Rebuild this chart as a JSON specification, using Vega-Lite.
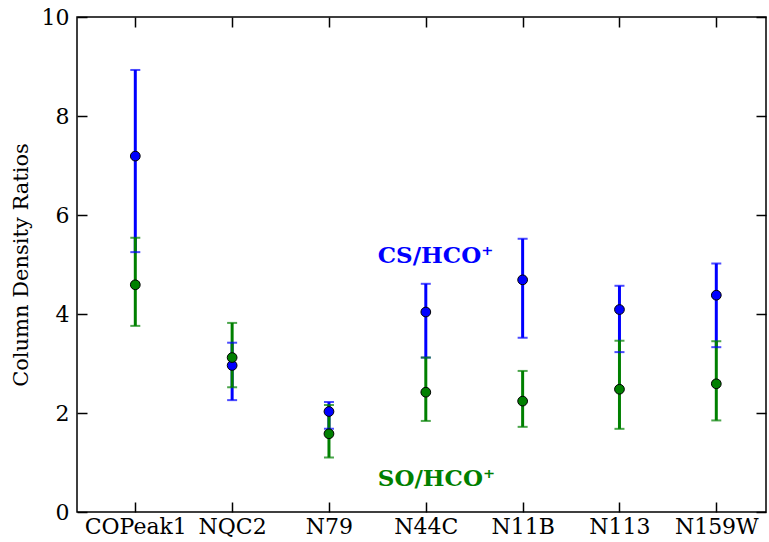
{
  "$schema": "https://vega.github.io/schema/vega-lite/v6.json",
  "width": 689,
  "height": 495,
  "autosize": {"type": "none"},
  "padding": {"left": 77, "top": 17, "right": 3, "bottom": 30},
  "background": "white",
  "config": {
    "view": {"stroke": "black", "strokeWidth": 1.5},
    "font": "DejaVu Serif, serif",
    "axis": {
      "domain": false,
      "grid": false,
      "tickColor": "black",
      "tickWidth": 1.5,
      "tickSize": -10,
      "labelColor": "black",
      "labelFont": "DejaVu Serif, serif",
      "labelFontSize": 22,
      "titleFont": "DejaVu Serif, serif",
      "titleFontSize": 21,
      "titleFontWeight": "normal",
      "titleColor": "black"
    }
  },
  "datasets": {
    "meas": [
      {"site": "COPeak1", "ratio": "CS/HCO+", "value": 7.19, "lo": 5.25, "hi": 8.93},
      {"site": "NQC2", "ratio": "CS/HCO+", "value": 2.96, "lo": 2.26, "hi": 3.42},
      {"site": "N79", "ratio": "CS/HCO+", "value": 2.03, "lo": 1.68, "hi": 2.22},
      {"site": "N44C", "ratio": "CS/HCO+", "value": 4.04, "lo": 3.12, "hi": 4.61},
      {"site": "N11B", "ratio": "CS/HCO+", "value": 4.69, "lo": 3.52, "hi": 5.52},
      {"site": "N113", "ratio": "CS/HCO+", "value": 4.09, "lo": 3.23, "hi": 4.57},
      {"site": "N159W", "ratio": "CS/HCO+", "value": 4.38, "lo": 3.33, "hi": 5.02},
      {"site": "COPeak1", "ratio": "SO/HCO+", "value": 4.59, "lo": 3.76, "hi": 5.54},
      {"site": "NQC2", "ratio": "SO/HCO+", "value": 3.12, "lo": 2.52, "hi": 3.82},
      {"site": "N79", "ratio": "SO/HCO+", "value": 1.58, "lo": 1.10, "hi": 2.16},
      {"site": "N44C", "ratio": "SO/HCO+", "value": 2.42, "lo": 1.84, "hi": 3.12},
      {"site": "N11B", "ratio": "SO/HCO+", "value": 2.24, "lo": 1.72, "hi": 2.85},
      {"site": "N113", "ratio": "SO/HCO+", "value": 2.48, "lo": 1.68, "hi": 3.46},
      {"site": "N159W", "ratio": "SO/HCO+", "value": 2.59, "lo": 1.85, "hi": 3.45}
    ],
    "labels": [
      {"site": "N44C", "ratio": "CS/HCO+", "value": 5.17, "label": "CS/HCO⁺"},
      {"site": "N44C", "ratio": "SO/HCO+", "value": 0.67, "label": "SO/HCO⁺"}
    ]
  },
  "resolve": {"axis": {"x": "independent", "y": "independent"}},
  "layer": [
    {
      "data": {"name": "meas"},
      "mark": {"type": "rule", "strokeWidth": 3},
      "encoding": {
        "x": {"field": "site", "type": "nominal",
              "sort": ["COPeak1", "NQC2", "N79", "N44C", "N11B", "N113", "N159W"],
              "scale": {"type": "point", "padding": 0, "range": [58.3, 639.3]},
              "axis": {"orient": "bottom", "title": null, "labelAngle": 0, "labelPadding": 14}},
        "y": {"field": "lo", "type": "quantitative",
              "scale": {"domain": [0, 10], "nice": false, "zero": true},
              "axis": {"orient": "left", "title": "Column Density Ratios", "values": [0, 2, 4, 6, 8, 10], "labelPadding": 18, "titlePadding": 10}},
        "y2": {"field": "hi"},
        "color": {"field": "ratio", "type": "nominal",
                  "scale": {"domain": ["CS/HCO+", "SO/HCO+"], "range": ["#0000ff", "#008000"]},
                  "legend": null}
      }
    },
    {
      "data": {"name": "meas"},
      "mark": {"type": "tick", "size": 10, "thickness": 2},
      "encoding": {
        "x": {"field": "site", "type": "nominal",
              "sort": ["COPeak1", "NQC2", "N79", "N44C", "N11B", "N113", "N159W"],
              "axis": {"orient": "top", "title": null, "labels": false}},
        "y": {"field": "lo", "type": "quantitative",
              "axis": {"orient": "right", "title": null, "labels": false, "values": [0, 2, 4, 6, 8, 10]}},
        "color": {"field": "ratio", "type": "nominal", "legend": null}
      }
    },
    {
      "data": {"name": "meas"},
      "mark": {"type": "tick", "size": 10, "thickness": 2},
      "encoding": {
        "x": {"field": "site", "type": "nominal",
              "sort": ["COPeak1", "NQC2", "N79", "N44C", "N11B", "N113", "N159W"], "axis": null},
        "y": {"field": "hi", "type": "quantitative", "axis": null},
        "color": {"field": "ratio", "type": "nominal", "legend": null}
      }
    },
    {
      "data": {"name": "meas"},
      "mark": {"type": "point", "filled": true, "size": 95, "stroke": "black", "strokeWidth": 1, "opacity": 1},
      "encoding": {
        "x": {"field": "site", "type": "nominal",
              "sort": ["COPeak1", "NQC2", "N79", "N44C", "N11B", "N113", "N159W"], "axis": null},
        "y": {"field": "value", "type": "quantitative", "axis": null},
        "fill": {"field": "ratio", "type": "nominal",
                 "scale": {"domain": ["CS/HCO+", "SO/HCO+"], "range": ["#0000ff", "#008000"]},
                 "legend": null}
      }
    },
    {
      "data": {"name": "labels"},
      "mark": {"type": "text", "align": "left", "baseline": "middle", "dx": -48, "fontSize": 23, "fontWeight": "bold", "font": "DejaVu Serif, serif"},
      "encoding": {
        "x": {"field": "site", "type": "nominal",
              "sort": ["COPeak1", "NQC2", "N79", "N44C", "N11B", "N113", "N159W"], "axis": null},
        "y": {"field": "value", "type": "quantitative", "axis": null},
        "text": {"field": "label"},
        "color": {"field": "ratio", "type": "nominal", "legend": null}
      }
    }
  ]
}
